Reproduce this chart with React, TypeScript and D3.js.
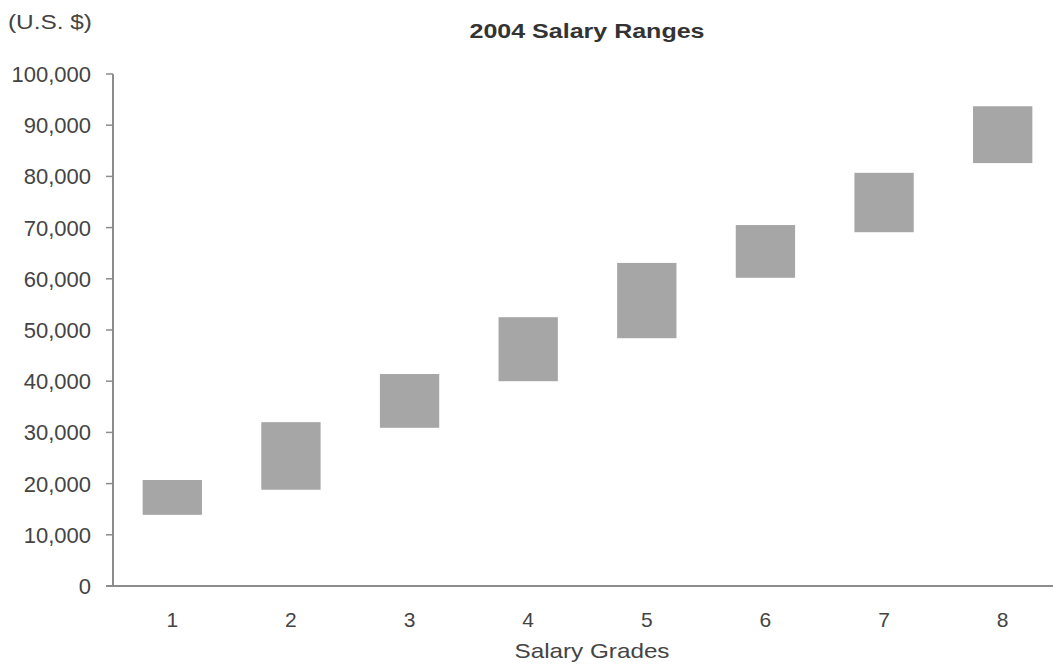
import * as d3 from "d3";

// salary grade ranges (U.S. $)
const grades = ["1", "2", "3", "4", "5", "6", "7", "8"];
const minSalary = [13900, 18800, 30900, 40000, 48400, 60200, 69100, 82600];
const maxSalary = [20700, 32000, 41400, 52500, 63100, 70500, 80700, 93700];
const yTicks = [0, 10000, 20000, 30000, 40000, 50000, 60000, 70000, 80000, 90000, 100000];

const width = 1053;
const height = 666;
const font = "'Liberation Sans', Arial, sans-serif";
const textColor = "#444";
const axisColor = "#8c8c8c";

export default function App() {
    const x = d3.scaleBand<string>()
        .domain(grades)
        .range([113, 1062])
        .paddingInner(0.5)
        .paddingOuter(0.25);

    const y = d3.scaleLinear()
        .domain([0, 100000])
        .range([586, 74]);

    const fmt = d3.format(",");

    return (
        <svg
            width={width}
            height={height}
            style={{ position: "absolute", left: 0, top: 0, background: "#fff" }}
            fontFamily={font}
        >
            {/* title */}
            <text x={587} y={38} textAnchor="middle" fontSize={20} fontWeight="bold"
                fill="#333" textLength={235} lengthAdjust="spacingAndGlyphs">
                2004 Salary Ranges
            </text>
            <text x={8} y={29} fontSize={20} fill={textColor} textLength={84} lengthAdjust="spacingAndGlyphs">
                (U.S. $)
            </text>

            {/* bars */}
            {grades.map((g, i) => (
                <rect
                    key={g}
                    x={x(g)}
                    width={x.bandwidth()}
                    y={y(maxSalary[i])}
                    height={y(minSalary[i]) - y(maxSalary[i])}
                    fill="#a6a6a6"
                />
            ))}

            {/* y axis */}
            <line x1={113} x2={113} y1={y(100000)} y2={y(0)} stroke={axisColor} strokeWidth={2} />
            {yTicks.map((t) => (
                <g key={t}>
                    <line x1={106} x2={113} y1={y(t)} y2={y(t)} stroke={axisColor} strokeWidth={1.5} />
                    <text x={91} y={y(t)} dy="0.36em" textAnchor="end" fontSize={22} fill={textColor}>
                        {fmt(t)}
                    </text>
                </g>
            ))}

            {/* x axis */}
            <line x1={106} x2={width} y1={y(0)} y2={y(0)} stroke={axisColor} strokeWidth={2} />
            {grades.map((g) => (
                <text key={g} x={(x(g) ?? 0) + x.bandwidth() / 2} y={627} textAnchor="middle"
                    fontSize={21} fill={textColor}>
                    {g}
                </text>
            ))}
            <text x={592} y={658} textAnchor="middle" fontSize={21} fill={textColor}
                textLength={155} lengthAdjust="spacingAndGlyphs">
                Salary Grades
            </text>
        </svg>
    );
}
